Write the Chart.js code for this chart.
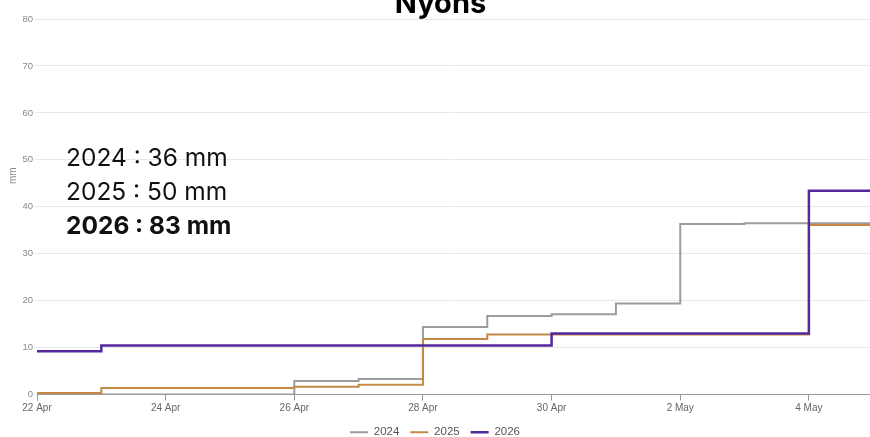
<!DOCTYPE html>
<html>
<head>
<meta charset="utf-8">
<script src="https://cdn.jsdelivr.net/npm/chart.js@4/dist/chart.umd.min.js"></script>
<style>
  html, body { margin: 0; padding: 0; background: #fff; overflow: hidden; }
  #wrap { position: relative; width: 870px; height: 437px; overflow: hidden; }
  #box { position: absolute; left: 0; top: 0; width: 870px; height: 448px; }
  #title {
    position: absolute; left: 11px; right: 0; top: -15px;
    text-align: center; font: bold 29px Inter, sans-serif; color: #000;
  }
  #ylab {
    position: absolute; left: 8px; top: 169px; width: 14px; height: 16px;
    font: 10px "Liberation Sans", Arial, sans-serif; color: #888;
    transform: rotate(-90deg); transform-origin: center; text-align: center;
  }
  #totals {
    position: absolute; left: 66px; top: 140px;
    font: 24.5px Inter, sans-serif; line-height: 34px; color: #111;
  }
  #totals b { font-weight: 700; }
</style>
</head>
<body>
<div id="wrap">
  <div id="box"><canvas id="rainChart"></canvas></div>
  <div id="title">Nyons</div>
  <div id="ylab">mm</div>
  <div id="totals">
    <div>2024 : 36 mm</div>
    <div>2025 : 50 mm</div>
    <div><b>2026 : 83 mm</b></div>
  </div>
</div>
<script>
/* ── data ── */
const dayLabels = ['22 Apr','23 Apr','24 Apr','25 Apr','26 Apr','27 Apr','28 Apr',
                   '29 Apr','30 Apr','1 May','2 May','3 May','4 May','5 May'];
const rain2024 = [0, 0, 0, 0, 2.9, 3.3, 14.4, 16.7, 17.1, 19.4, 36.3, 36.5, 36.5, 36.5];
const rain2025 = [0.3, 1.4, 1.4, 1.4, 1.65, 2.1, 11.8, 12.8, 12.8, 12.8, 12.8, 12.8, 36.1, 36.1];
const rain2026 = [9.2, 10.45, 10.45, 10.45, 10.45, 10.45, 10.45, 10.45, 13.0, 13.0, 13.0, 13.0, 43.4, 43.4];
const yTicks = [0, 10, 20, 30, 40, 50, 60, 70, 80];

Chart.defaults.font.family = '"Liberation Sans", Arial, sans-serif';
Chart.defaults.font.size = 10;
Chart.defaults.color = '#777';

function stepSet(label, values, color, width, order) {
  return {
    label,
    data: values.map((v, i) => ({ x: i, y: v })),
    borderColor: color,
    backgroundColor: color,
    borderWidth: width,
    pointRadius: 0,
    stepped: true,
    fill: false,
    order,
  };
}

new Chart(document.getElementById('rainChart'), {
  type: 'line',
  data: {
    datasets: [
      stepSet('2024', rain2024, '#9c9c9c', 2, 2),
      stepSet('2025', rain2025, '#c48a45', 2, 1),
      stepSet('2026', rain2026, '#55299e', 2.5, 0),
    ]
  },
  options: {
    responsive: true,
    maintainAspectRatio: false,
    animation: false,
    layout: { padding: { top: 19, right: 0, left: 0, bottom: 0 } },
    plugins: {
      tooltip: { enabled: false },
      legend: {
        display: true,
        position: 'bottom',
        labels: {
          color: '#555',
          font: { size: 11.5 },
          usePointStyle: true,
          pointStyle: 'line',
          pointStyleWidth: 18,
          padding: 11,
          sort: (a, b) => a.datasetIndex - b.datasetIndex,
        }
      }
    },
    scales: {
      x: {
        type: 'linear',
        min: 0, max: 12.95,
        grid: { drawOnChartArea: false, color: '#999', tickLength: 6 },
        border: { display: true, color: '#999', width: 1 },
        ticks: {
          stepSize: 2,
          includeBounds: false,
          padding: 2,
          color: '#666',
          maxRotation: 0,
          callback: v => dayLabels[v] || '',
        },
        afterFit: s => { s.height = 21; },
      },
      y: {
        min: 0, max: 80,
        afterBuildTicks: s => { s.ticks = yTicks.map(v => ({ value: v })); },
        grid: { color: '#e9e9e9', tickLength: 3 },
        border: { display: false },
        ticks: { padding: 1, color: '#888', font: { size: 9.5 } },
        afterFit: s => { s.width = 37; },
      }
    }
  }
});
</script>
</body>
</html>
